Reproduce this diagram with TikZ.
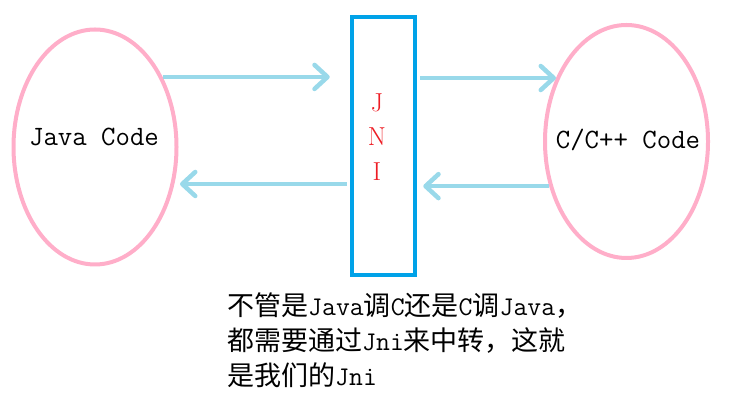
\documentclass[tikz,border=0pt]{standalone}
\usepackage{fontspec}
\newfontfamily\cjk{Noto Sans CJK SC}
\usetikzlibrary{shapes.geometric,arrows.meta,calc}
\definecolor{pinkc}{RGB}{255,174,201}
\definecolor{bluec}{RGB}{0,162,232}
\definecolor{arrc}{RGB}{153,217,234}
\definecolor{redc}{RGB}{237,28,36}
\newcommand\lat[1]{{\ttfamily #1}}
\begin{document}
\begin{tikzpicture}[x=1pt,y=1pt,
  oval/.style={ellipse, draw=pinkc, line width=4pt, minimum width=163pt, minimum height=235pt, inner sep=0pt},
  box/.style={rectangle, draw=bluec, line width=4.5pt, minimum width=63pt, minimum height=258pt, inner sep=0pt},
  arr/.style={draw=arrc, line width=4.5pt, -{Straight Barb[length=13pt,width=24pt,round]}},
  code/.style={font=\fontsize{28}{34}\selectfont\ttfamily, inner sep=0pt}
]
\useasboundingbox (0,0) rectangle (730,406);
\node[oval] (java) at (95,259) {};
\node[code] (javatext) at (94,269) {Java Code};
\node[oval, minimum height=233pt] (cpp) at (626.5,264.5) {};
\node[code] (cpptext) at (628,266) {C/C++ Code};
\node[box] (jni) at (383.5,260) {};
\node[text=redc, font=\fontsize{26}{34.5}\selectfont, align=center, inner sep=0pt] (jnitext) at (377,269) {J\\N\\I};
\draw[arr] (java.46) -- ($(java.46 -| jni.west)+(-20,0)$);
\draw[arr] ($(jni.west)+(-3,-38)$) -- ($(java.center)+(85,-37)$);
\draw[arr] ($(cpp.138 -| jni.east)+(3,0)$) -- (cpp.138);
\draw[arr] (cpp.210) -- ($(cpp.210 -| jni.east)+(6,0)$);
\node[anchor=north west, align=left, inner sep=0pt, font=\cjk\fontsize{27}{35}\selectfont] (note) at (227,113) {不管是\lat{Java}调\lat{C}还是\lat{C}调\lat{Java}，\\都需要通过\lat{Jni}来中转，这就\\是我们的\lat{Jni}};
\end{tikzpicture}
\end{document}
